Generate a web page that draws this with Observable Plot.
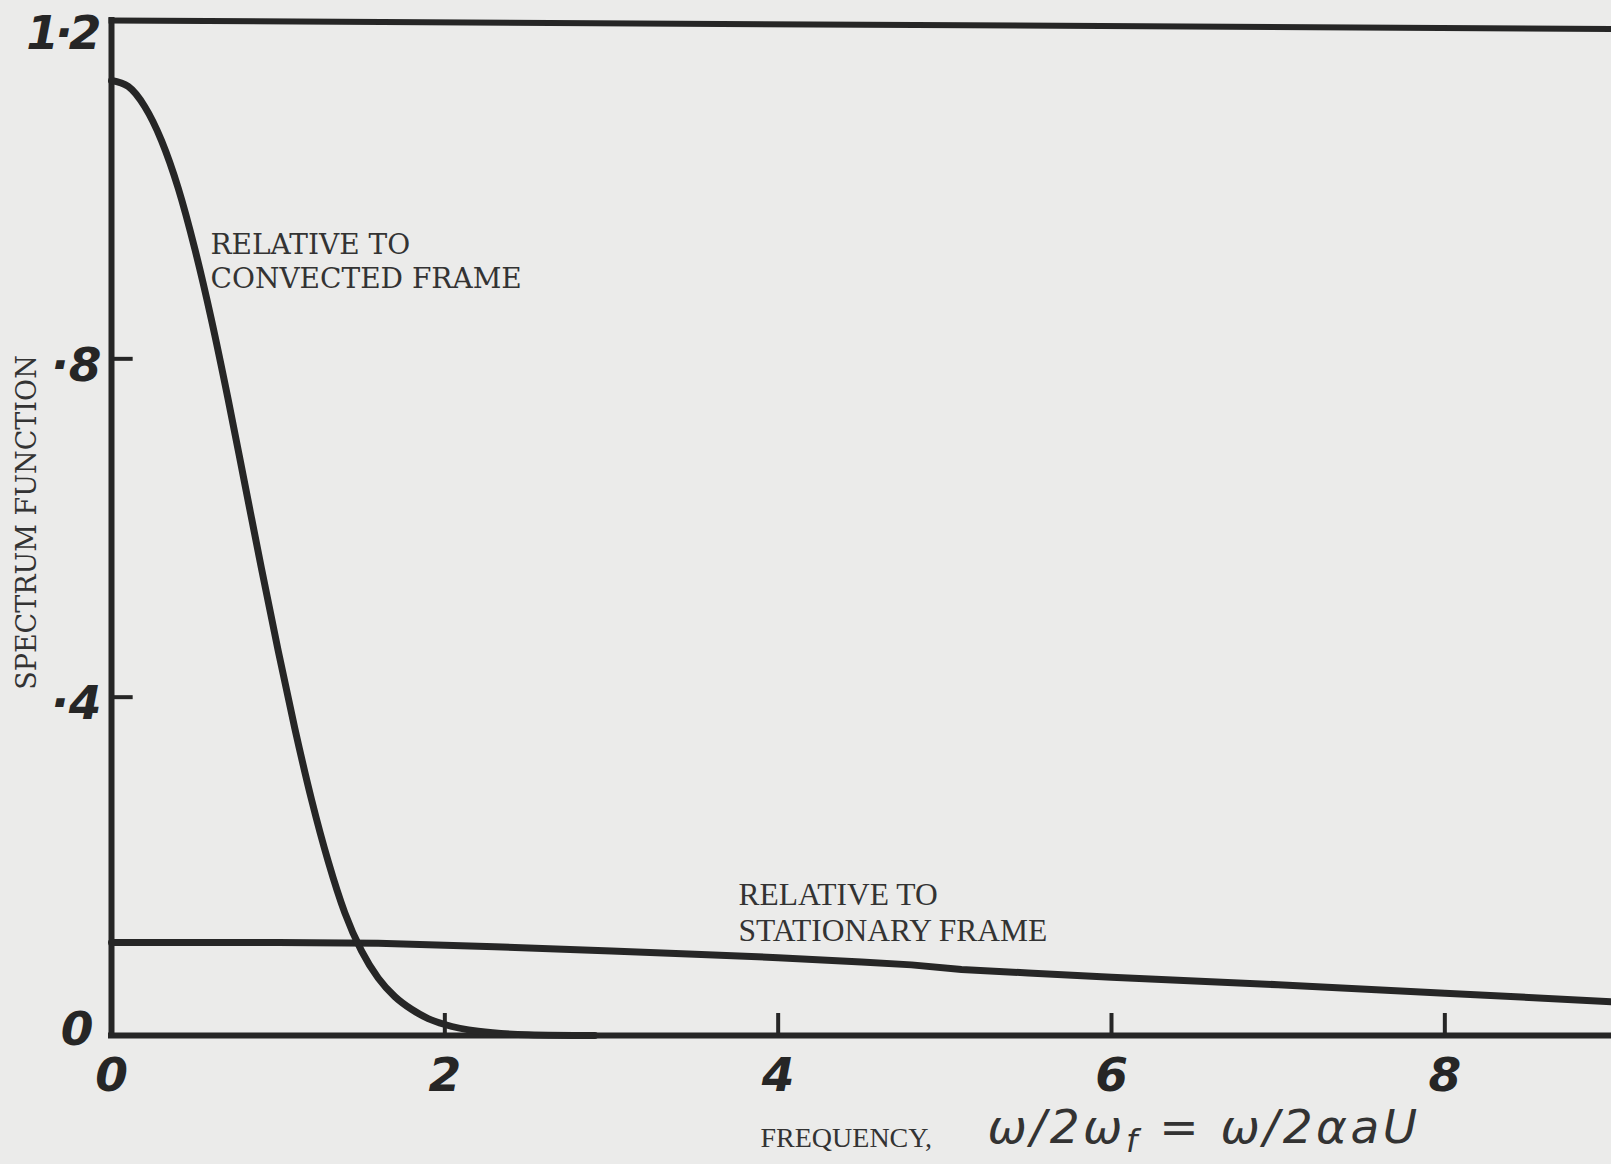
<!DOCTYPE html>
<html>
<head>
<meta charset="utf-8">
<script src="https://cdn.jsdelivr.net/npm/d3@7"></script>
<script src="https://cdn.jsdelivr.net/npm/@observablehq/plot@0.6"></script>
<style>
  html, body { margin: 0; padding: 0; background: #ebebea; }
  #chart svg { display: block; }
</style>
</head>
<body>
<div id="chart"></div>
<script>
// Spectrum relative to the convected frame
const convX = [0, 0.1, 0.2, 0.3, 0.4, 0.5, 0.6, 0.7, 0.8, 0.9, 1.0, 1.1, 1.2, 1.3, 1.4, 1.5, 1.6, 1.7, 1.8, 1.9, 2.0, 2.2, 2.5, 2.9];
const convY = [1.129, 1.122, 1.098, 1.058, 1.002, 0.930, 0.846, 0.752, 0.652, 0.552, 0.455, 0.363, 0.279, 0.206, 0.145, 0.100, 0.068, 0.046, 0.031, 0.020, 0.013, 0.005, 0.001, 0.0];

// Spectrum relative to the stationary frame
const statX = [0, 1, 1.6, 2.3, 3, 3.5, 4, 4.5, 4.8, 5.1, 5.5, 6, 7, 8, 9];
const statY = [0.110, 0.110, 0.109, 0.105, 0.100, 0.096, 0.092, 0.087, 0.0835, 0.078, 0.074, 0.069, 0.060, 0.050, 0.040];

// Axes
const xTickValues = [0, 2, 4, 6, 8];
const xTickLabels = ["0", "2", "4", "6", "8"];
const yTickValues = [0, 0.4, 0.8, 1.2];
const yTickLabels = ["0", "·4", "·8", "1·2"];
const xInnerTicks = [2, 4, 6, 8];
const yInnerTicks = [0.4, 0.8];
const topEdgeX = [0, 9];
const topEdgeY = [1.2, 1.19];

const yAxisLabel = "SPECTRUM FUNCTION";
const xAxisWord = "FREQUENCY,";
const xAxisMath = "ω/2ω_f = ω/2αaU";
const convLabel = ["RELATIVE TO", "CONVECTED FRAME"];
const statLabel = ["RELATIVE TO", "STATIONARY FRAME"];

const conv = convX.map((x, i) => ({x, y: convY[i]}));
const stat = statX.map((x, i) => ({x, y: statY[i]}));
const topEdge = topEdgeX.map((x, i) => ({x, y: topEdgeY[i]}));
const yTicks = yTickValues.map((v, i) => ({v, label: yTickLabels[i]}));
const xTicks = xTickValues.map((v, i) => ({v, label: xTickLabels[i]}));

const ink = "#262626";
const textInk = "#333333";
const digitFont = {fontFamily: "DejaVu Sans", fontWeight: "bold", fontStyle: "italic", fontSize: 47, fill: ink};

const svg = Plot.plot({
  width: 1611,
  height: 1164,
  marginLeft: 111,
  marginRight: 0,
  marginTop: 20,
  marginBottom: 129,
  x: {domain: [0, 9], axis: null},
  y: {domain: [0, 1.2], axis: null},
  style: {background: "#ebebea", overflow: "visible"},
  marks: [
    // frame
    Plot.ruleX([0], {y1: 0, y2: 1.2, stroke: ink, strokeWidth: 6, strokeLinecap: "square"}),
    Plot.ruleY([0], {x1: 0, x2: 9, stroke: ink, strokeWidth: 6, strokeLinecap: "square"}),
    Plot.line(topEdge, {x: "x", y: "y", stroke: ink, strokeWidth: 6, strokeLinecap: "square"}),
    // inner ticks
    Plot.ruleY(yInnerTicks, {x1: 0, x2: 0.13, stroke: ink, strokeWidth: 4}),
    Plot.ruleX(xInnerTicks, {y1: 0, y2: 0.026, stroke: ink, strokeWidth: 4}),
    // curves
    Plot.line(stat, {x: "x", y: "y", stroke: ink, strokeWidth: 7, curve: "linear"}),
    Plot.line(conv, {x: "x", y: "y", stroke: ink, strokeWidth: 7, curve: "monotone-x"}),
    // tick labels
    Plot.text(yTicks.filter(d => d.v === 1.2), {x: 0, y: "v", text: "label", dx: -14, dy: 13, textAnchor: "end", ...digitFont}),
    Plot.text(yTicks.filter(d => d.v > 0 && d.v < 1.2), {x: 0, y: "v", text: "label", dx: -10, dy: 7, textAnchor: "end", ...digitFont}),
    Plot.text(yTicks.filter(d => d.v === 0), {x: 0, y: "v", text: "label", dx: -18, dy: -6, textAnchor: "end", ...digitFont}),
    Plot.text(xTicks, {x: "v", y: 0, text: "label", dy: 40, textAnchor: "middle", ...digitFont}),
    // axis titles
    Plot.text([yAxisLabel], {x: -0.504, y: 0.6065, text: d => d, rotate: -90, textAnchor: "middle",
      fontFamily: "DejaVu Serif", fontSize: 27, fill: textInk}),
    Plot.text([xAxisWord], {x: 3.894, y: -0.1218, text: d => d, textAnchor: "start",
      fontFamily: "Liberation Serif", fontSize: 28, fill: textInk}),
    Plot.text([xAxisMath], {x: 5.256, y: -0.109, text: d => d, textAnchor: "start",
      fontFamily: "DejaVu Sans", fontStyle: "italic", fontSize: 47, fill: textInk}),
    // curve annotations
    Plot.text([convLabel[0]], {x: 0.594, y: 0.935, text: d => d, textAnchor: "start",
      fontFamily: "DejaVu Serif", fontSize: 28, fill: textInk}),
    Plot.text([convLabel[1]], {x: 0.594, y: 0.894, text: d => d, textAnchor: "start",
      fontFamily: "DejaVu Serif", fontSize: 28, fill: textInk}),
    Plot.text([statLabel[0]], {x: 3.762, y: 0.1667, text: d => d, textAnchor: "start",
      fontFamily: "Liberation Serif", fontSize: 31.5, fill: textInk}),
    Plot.text([statLabel[1]], {x: 3.762, y: 0.124, text: d => d, textAnchor: "start",
      fontFamily: "Liberation Serif", fontSize: 31.5, fill: textInk})
  ]
});

// turn the "_f" of the math label into a real subscript, spaced like the hand lettering
d3.select(svg).selectAll("text").filter(function() { return this.textContent === xAxisMath; })
  .each(function() {
    const t = d3.select(this);
    const [before, after] = xAxisMath.split("_f");
    t.text(null).attr("letter-spacing", 3.5);
    t.append("tspan").text(before);
    t.append("tspan").attr("dy", 9).attr("font-size", 32).text("f");
    t.append("tspan").attr("dy", -9).text(after);
  });

// the hand-lettered "1·2" is tighter than the font
d3.select(svg).selectAll("text").filter(function() { return this.textContent === "1·2"; })
  .attr("letter-spacing", -4);

document.getElementById("chart").appendChild(svg);
</script>
</body>
</html>
